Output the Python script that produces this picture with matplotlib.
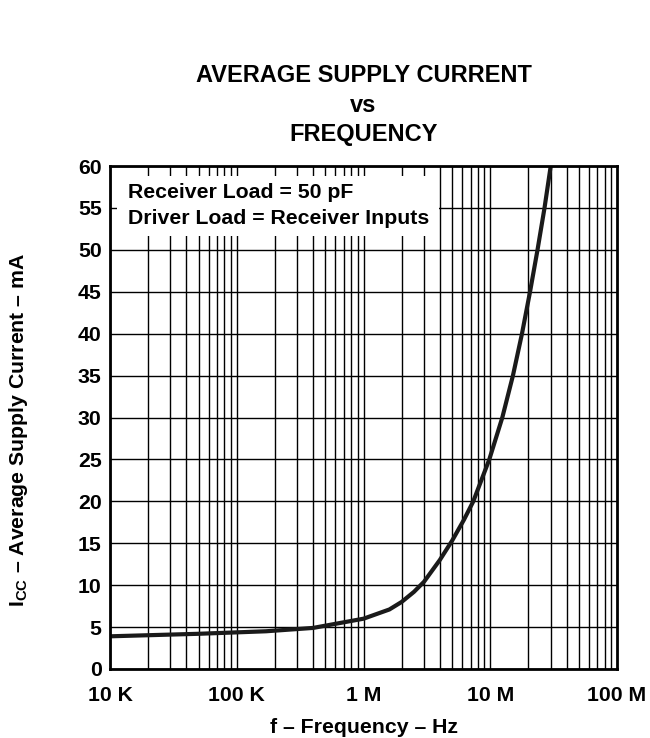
import matplotlib
matplotlib.use('Agg')
import matplotlib.pyplot as plt
from matplotlib.patches import Rectangle

plt.rcParams['font.family'] = ['Liberation Sans', 'DejaVu Sans']
plt.rcParams['font.weight'] = 'bold'
plt.rcParams['mathtext.fontset'] = 'custom'
plt.rcParams['mathtext.bf'] = 'Liberation Sans:bold'
plt.rcParams['mathtext.rm'] = 'Liberation Sans:bold'

# values
freq_hz = [10e3, 50e3, 170e3, 400e3, 1.0e6, 1.6e6, 2.0e6, 2.5e6, 3.0e6, 4.0e6, 5.0e6,
           6.2e6, 7.35e6, 9.83e6, 12.45e6, 15.1e6, 17.8e6, 20.6e6, 23.6e6, 26.8e6, 30e6]
icc_ma = [3.9, 4.2, 4.5, 4.9, 6.0, 7.1, 8.0, 9.2, 10.4, 13.0, 15.3,
          17.8, 20, 25, 30, 35, 40, 45, 50, 55, 60]

x_ticks = [1e4, 1e5, 1e6, 1e7, 1e8]
x_labels = ['10 K', '100 K', '1 M', '10 M', '100 M']
y_ticks = list(range(0, 61, 5))

FS = 15.3

fig = plt.figure(figsize=(6.5, 7.38), dpi=100)
ax = fig.add_axes([110 / 650, 1 - 669 / 738, 507 / 650, 503 / 738])

# grid drawn by hand so the note box can sit on top of it
minor = [m * 10 ** d for d in range(4, 8) for m in range(1, 10)]
ax.vlines(minor, 0, 60, colors='black', linewidth=1.0, zorder=1)
ax.hlines(y_ticks, 1e4, 1e8, colors='black', linewidth=1.0, zorder=1)

ax.add_patch(Rectangle((7 / 507, (669 - 236) / 503), (439 - 117) / 507, 60 / 503,
                       transform=ax.transAxes, facecolor='white', edgecolor='none', zorder=2))
ax.text(18 / 507, (669 - 197.5) / 503, 'Receiver Load = 50 pF', transform=ax.transAxes,
        fontsize=FS, fontweight='bold', va='baseline', zorder=4)
ax.text(18 / 507, (669 - 224) / 503, 'Driver Load = Receiver Inputs', transform=ax.transAxes,
        fontsize=FS, fontweight='bold', va='baseline', zorder=4)

ax.plot(freq_hz, icc_ma, color='#1a1a1a', linewidth=3, zorder=3, solid_capstyle='butt')

ax.set_xscale('log')
ax.set_xlim(1e4, 1e8)
ax.set_ylim(0, 60)
ax.set_xticks(x_ticks)
ax.set_xticklabels(x_labels)
ax.xaxis.set_minor_locator(matplotlib.ticker.NullLocator())
ax.set_yticks(y_ticks)
ax.tick_params(axis='both', length=0, labelsize=FS)
ax.tick_params(axis='x', pad=12)
ax.tick_params(axis='y', pad=6)
for s in ax.spines.values():
    s.set_linewidth(2)
    s.set_zorder(5)

ax.set_xlabel('f – Frequency – Hz', fontsize=FS, fontweight='bold', va='baseline')
ax.xaxis.set_label_coords(0.5, (669 - 733) / 503)
ax.set_ylabel(r'$\mathbf{I_{CC}}$ – Average Supply Current – mA', fontsize=FS, fontweight='bold')
ax.yaxis.set_label_coords((30 - 110) / 507, 0.475)

xc = (110 + 617) / 2 / 650
fig.text(xc, 1 - 81.7 / 738, 'AVERAGE SUPPLY CURRENT',
         ha='center', va='baseline', fontsize=17, fontweight='bold')
fig.text(xc, 1 - 111.7 / 738, 'vs',
         ha='center', va='baseline', fontsize=17, fontweight='bold')
fig.text(xc, 1 - 141 / 738, 'FREQUENCY',
         ha='center', va='baseline', fontsize=17, fontweight='bold')

fig.savefig('out.png', dpi=100)
